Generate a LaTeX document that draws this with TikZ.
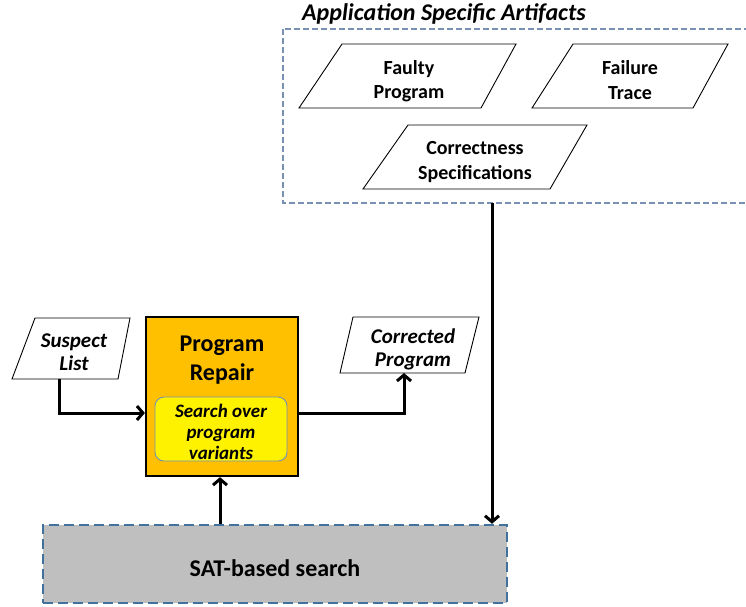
\documentclass[tikz,border=0pt]{standalone}
\usepackage{fontspec}
\setmainfont{Carlito}
\usetikzlibrary{arrows.meta}
\definecolor{dashblue}{HTML}{7890B2}
\definecolor{satblue}{HTML}{41719C}
\definecolor{repairorange}{HTML}{FFC000}
\definecolor{satgray}{HTML}{BFBFBF}
\begin{document}
\begin{tikzpicture}[x=1pt,y=-1pt,
  para/.style={draw=black, line width=0.9pt, fill=white},
  lbl/.style={align=center, font=\fontsize{20}{24.5}\selectfont\bfseries, inner sep=0pt},
  ilbl/.style={align=center, font=\fontsize{21}{23}\selectfont\bfseries\itshape, inner sep=0pt},
  conn/.style={line width=3pt, -{Straight Barb[length=6pt,width=14pt,line width=3pt]}},
]
\useasboundingbox (0,0) rectangle (746,606);

% Artifacts container (right edge lies beyond the picture)
\draw[dashblue, line width=1.3pt, dash pattern=on 6pt off 3pt] (283,29) rectangle (752,203);
\node[anchor=west, font=\fontsize{24}{28}\selectfont\bfseries\itshape, inner sep=0pt] (title) at (302,14) {Application Specific Artifacts};
\coordinate (artbot) at (492,203);

% Faulty Program
\draw[para] (342,44) -- (516,44) -- (481,108) -- (299,108) -- cycle;
\node[lbl] (faulty) at (409,81) {Faulty\\Program};
% Failure Trace
\draw[para] (573,44) -- (728,44) -- (693,108) -- (532,108) -- cycle;
\node[lbl] (failure) at (630,80) {Failure\\Trace};
% Correctness Specifications
\draw[para] (408,125) -- (587,125) -- (550,189) -- (363,189) -- cycle;
\node[lbl] (correct) at (475,162) {Correctness\\Specifications};

% Suspect List
\draw[para] (35,318) -- (130,318) -- (118,379) -- (12,379) -- cycle;
\node[ilbl] (suspect) at (74,352) {Suspect\\List};
\coordinate (suspbot) at (59,379);

% Corrected Program
\draw[para] (353,317) -- (479,317) -- (465,373) -- (340,373) -- cycle;
\node[ilbl] (corrected) at (413,349) {Corrected\\Program};
\coordinate (corrbot) at (404,373);

% Program Repair
\node[draw=black, line width=2.2pt, fill=repairorange, minimum width=152pt, minimum height=159pt, inner sep=0pt] (repair) at (222,396.5) {};
\node[align=center, font=\fontsize{24}{29}\selectfont\bfseries, inner sep=0pt] (repairtxt) at (222,360) {Program\\Repair};
\node[draw=dashblue, line width=0.9pt, fill=yellow, rounded corners=9pt, minimum width=132pt, minimum height=64pt, inner sep=0pt] (search) at (221,429) {};
\node[align=center, font=\fontsize{19}{21}\selectfont\bfseries\itshape, inner sep=0pt] (searchtxt) at (221,432) {Search over\\program\\variants};

% SAT-based search
\node[draw=satblue, fill=satgray, line width=2.5pt, dash pattern=on 10pt off 5pt, minimum width=464pt, minimum height=78pt, inner sep=0pt] (sat) at (275,564) {};
\node[font=\fontsize{24}{28}\selectfont\bfseries, inner sep=0pt] (sattxt) at (275,568) {SAT-based search};

% Connectors
\draw[conn] (suspbot) |- (repair.west |- 0,413);
\draw[conn] (repair.east |- 0,413) -| (corrbot);
\draw[conn] (sat.north -| 220,0) -- (repair.south -| 220,0);
\draw[conn] (artbot) -- (sat.north -| artbot);
\end{tikzpicture}
\end{document}
